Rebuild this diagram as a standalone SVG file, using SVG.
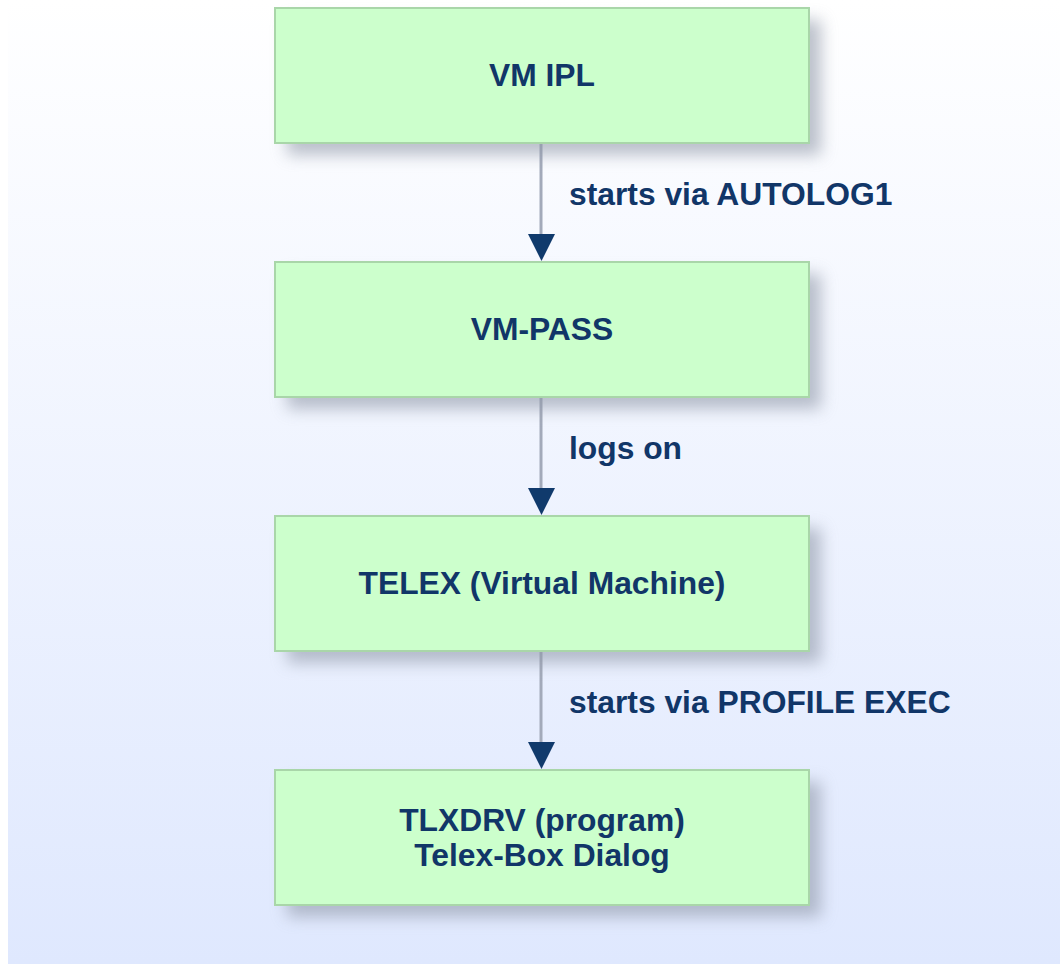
<svg xmlns="http://www.w3.org/2000/svg" width="1060" height="964" viewBox="0 0 1060 964">
  <defs>
    <linearGradient id="bg" x1="0" y1="0" x2="0" y2="1">
      <stop offset="0" stop-color="#ffffff"/>
      <stop offset="1" stop-color="#dfe8fe"/>
    </linearGradient>
    <filter id="shadow" x="-10%" y="-20%" width="130%" height="160%">
      <feGaussianBlur stdDeviation="8"/>
    </filter>
    <style>
      .box { fill: #ccffcc; stroke: #a9d6a9; stroke-width: 2; }
      .shadow { fill: #9098a8; opacity: 0.6; filter: url(#shadow); }
      .t { font-family: "Liberation Sans", Arial, sans-serif; font-weight: bold; font-size: 31.8px; fill: #113668; }
      .c { text-anchor: middle; }
      .line { stroke: #a3aaba; stroke-width: 3; fill: none; }
      .head { fill: #103a6c; }
    </style>
  </defs>
  <rect x="0" y="0" width="1060" height="964" fill="#ffffff"/>
  <rect x="8" y="0" width="1052" height="964" fill="url(#bg)"/>

  <g id="connectors">
    <line class="line" x1="541" y1="143" x2="541" y2="236"/>
    <polygon class="head" points="528,234 555,234 541.5,261"/>
    <line class="line" x1="541" y1="397" x2="541" y2="490"/>
    <polygon class="head" points="528,488 555,488 541.5,515"/>
    <line class="line" x1="541" y1="651" x2="541" y2="744"/>
    <polygon class="head" points="528,742 555,742 541.5,769"/>
    <text class="t" x="569" y="205">starts via AUTOLOG1</text>
    <text class="t" x="569" y="459">logs on</text>
    <text class="t" x="569" y="713">starts via PROFILE EXEC</text>
  </g>

  <g id="node-vmipl">
    <rect class="shadow" x="287" y="20" width="534" height="135"/>
    <rect class="box" x="275" y="8" width="534" height="135"/>
    <text class="t c" x="542" y="86">VM IPL</text>
  </g>
  <g id="node-vmpass">
    <rect class="shadow" x="287" y="274" width="534" height="135"/>
    <rect class="box" x="275" y="262" width="534" height="135"/>
    <text class="t c" x="542" y="340">VM-PASS</text>
  </g>
  <g id="node-telex">
    <rect class="shadow" x="287" y="528" width="534" height="135"/>
    <rect class="box" x="275" y="516" width="534" height="135"/>
    <text class="t c" x="542" y="594">TELEX (Virtual Machine)</text>
  </g>
  <g id="node-tlxdrv">
    <rect class="shadow" x="287" y="782" width="534" height="135"/>
    <rect class="box" x="275" y="770" width="534" height="135"/>
    <text class="t c" x="542" y="831">TLXDRV (program)</text>
    <text class="t c" x="542" y="866">Telex-Box Dialog</text>
  </g>
</svg>
